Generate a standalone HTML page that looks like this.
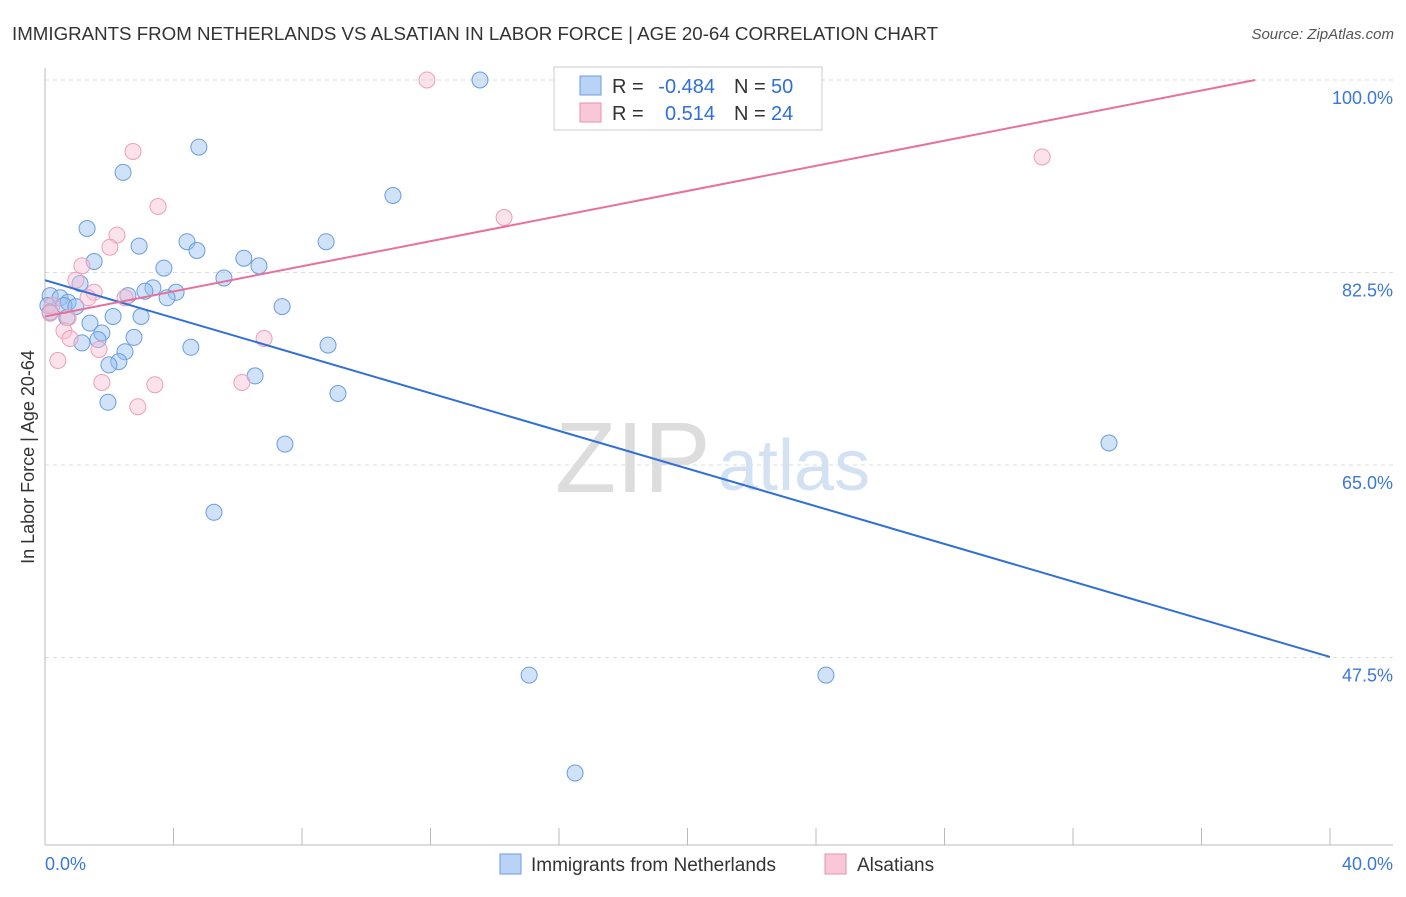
<!DOCTYPE html>
<html><head><meta charset="utf-8"><style>
body{margin:0;background:#fff;font-family:"Liberation Sans",sans-serif;}
svg text{font-family:"Liberation Sans",sans-serif;}
</style></head><body>
<svg id="chart" width="1406" height="892">
<text x="12" y="40" font-size="18.5" fill="#333" textLength="926" lengthAdjust="spacingAndGlyphs">IMMIGRANTS FROM NETHERLANDS VS ALSATIAN IN LABOR FORCE | AGE 20-64 CORRELATION CHART</text>
<text x="1394" y="39" font-size="15" fill="#555" text-anchor="end" font-style="italic">Source: ZipAtlas.com</text>
<g id="grid"></g>
<text x="555" y="492" font-size="100" fill="#ddd" font-family="Liberation Serif">ZIP</text>
<text x="718" y="490" font-size="72" fill="#d3e2f3">atlas</text>
<text transform="translate(34,457) rotate(-90)" font-size="18" fill="#333" text-anchor="middle">In Labor Force | Age 20-64</text>
<g id="pts"></g>
<g id="lines"></g>
<rect x="554" y="67" width="268" height="63" fill="#fff" stroke="#ccc"/>
<rect x="580" y="76" width="21" height="19" fill="#b8d3f5" stroke="#6a9de0"/>
<rect x="580" y="103" width="21" height="19" fill="#f9c8d8" stroke="#e890ad"/>
<text x="612" y="93" font-size="20" fill="#333">R =</text>
<text x="715" y="93" font-size="20" fill="#2f6fd8" text-anchor="end">-0.484</text>
<text x="734" y="93" font-size="20" fill="#333">N =</text>
<text x="771" y="93" font-size="20" fill="#2f6fd8">50</text>
<text x="612" y="120" font-size="20" fill="#333">R =</text>
<text x="715" y="120" font-size="20" fill="#2f6fd8" text-anchor="end">0.514</text>
<text x="734" y="120" font-size="20" fill="#333">N =</text>
<text x="771" y="120" font-size="20" fill="#2f6fd8">24</text>
<text x="45" y="870" font-size="18" fill="#3a78d8">0.0%</text>
<text x="1393" y="870" font-size="18" fill="#3a78d8" text-anchor="end">40.0%</text>
<rect x="500" y="854" width="21" height="20" fill="#b8d3f5" stroke="#6a9de0"/>
<text x="531" y="871" font-size="19" fill="#333">Immigrants from Netherlands</text>
<rect x="825" y="854" width="21" height="20" fill="#f9c8d8" stroke="#e890ad"/>
<text x="857" y="871" font-size="19" fill="#333">Alsatians</text>
</svg>
<script>
const yTicks=[100,82.5,65,47.5];
const yTickLabels=["100.0%","82.5%","65.0%","47.5%"];
const blueX=[13.54,4.79,2.43,10.83,1.31,4.42,8.75,2.93,4.73,6.19,1.53,6.66,3.70,5.57,1.09,3.36,3.11,4.08,2.58,0.16,0.47,0.72,3.80,0.09,0.59,0.96,7.38,2.99,2.12,0.68,1.40,1.77,2.77,1.65,1.15,8.81,4.54,2.49,2.30,1.99,6.54,9.12,1.96,7.47,33.12,5.26,15.07,24.31,16.50,0.16];
const blueY=[100,93.9,91.6,89.5,86.5,85.3,85.3,84.9,84.5,83.8,83.5,83.1,82.9,82.0,81.5,81.1,80.8,80.7,80.4,80.4,80.2,79.8,80.2,79.5,79.5,79.4,79.4,78.5,78.5,78.4,77.9,77.0,76.6,76.4,76.1,75.9,75.7,75.3,74.4,74.1,73.1,71.5,70.7,66.9,67.0,60.7,45.9,45.9,37.0,78.9];
const pinkX=[11.89,2.74,31.04,3.52,14.29,2.24,2.02,1.15,0.96,1.53,1.34,2.49,0.22,0.16,0.72,0.59,6.82,0.78,1.68,0.40,1.77,6.13,3.42,2.89];
const pinkY=[100,93.5,93.0,88.5,87.5,85.9,84.8,83.1,81.8,80.7,80.2,80.2,79.5,78.8,78.4,77.2,76.5,76.5,75.5,74.5,72.5,72.5,72.3,70.3];
const blueLineX=[0,40];const blueLineY=[81.8,47.55];
const pinkLineX=[0,37.67];const pinkLineY=[78.5,100];
const NS="http://www.w3.org/2000/svg";
const sx=v=>45+v*1285/40, sy=v=>80+(100-v)*11;
function mk(t,a,p){const e=document.createElementNS(NS,t);for(const k in a)e.setAttribute(k,a[k]);p.appendChild(e);return e;}
const g=document.getElementById('grid');
yTicks.forEach((t,i)=>{
 const l=mk('line',{x1:45,x2:1393,y1:sy(t),y2:sy(t),stroke:'#ddd','stroke-dasharray':'4,4'},g);
 
 
 const tx=mk('text',{x:1393,y:sy(t)+24,'font-size':18,fill:'#3a78d8','text-anchor':'end'},g);
 tx.textContent=yTickLabels[i];
 
 
});
const ax=mk('line',{x1:45,x2:1393,y1:845,y2:845,stroke:'#bbb'},g);


const ay=mk('line',{x1:45,x2:45,y1:68,y2:845,stroke:'#bbb'},g);


for(let v=0;v<=40;v+=4){const t=mk('line',{x1:sx(v),x2:sx(v),y1:828,y2:845,stroke:'#bbb'},g);
 
 }
const P=document.getElementById('pts');
blueX.forEach((x,i)=>{const c=mk('circle',{cx:sx(x),cy:sy(blueY[i]),r:8,fill:'rgba(150,190,240,0.45)',stroke:'#6a9de0','stroke-width':1},P);
 
 });
pinkX.forEach((x,i)=>{const c=mk('circle',{cx:sx(x),cy:sy(pinkY[i]),r:8,fill:'rgba(248,190,210,0.45)',stroke:'#eaa0bb','stroke-width':1},P);
 
 });
const L=document.getElementById('lines');
const bl=mk('line',{x1:sx(blueLineX[0]),y1:sy(blueLineY[0]),x2:sx(blueLineX[1]),y2:sy(blueLineY[1]),stroke:'#2f6fd8','stroke-width':2},L);


const pl=mk('line',{x1:sx(pinkLineX[0]),y1:sy(pinkLineY[0]),x2:sx(pinkLineX[1]),y2:sy(pinkLineY[1]),stroke:'#e8709a','stroke-width':2},L);


</script>
</body></html>
